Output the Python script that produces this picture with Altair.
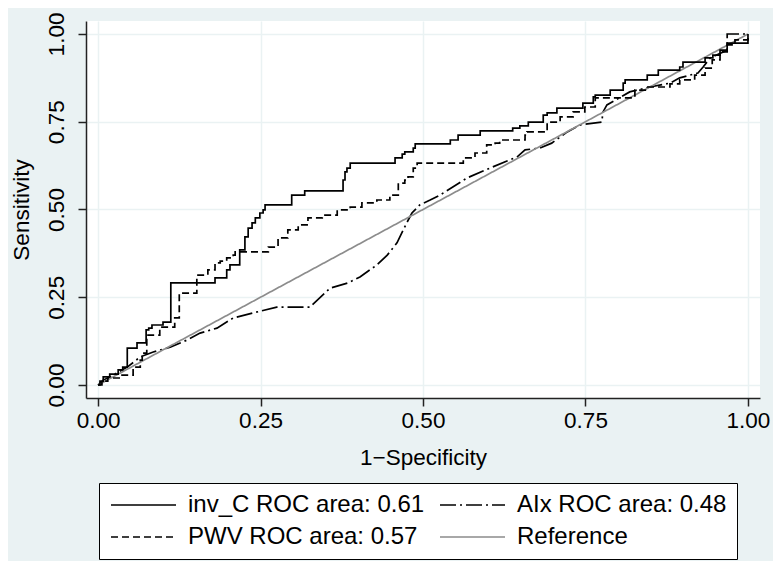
import altair as alt
import pandas as pd

# ROC points (1-Specificity, Sensitivity)
invc_x = [0.0, 0.003, 0.008, 0.018, 0.031, 0.038, 0.045, 0.060, 0.074, 0.078, 0.083, 0.100, 0.112,
          0.180, 0.198, 0.203, 0.218, 0.226, 0.231, 0.237, 0.242, 0.249, 0.254, 0.257, 0.298, 0.318,
          0.377, 0.380, 0.383, 0.388, 0.457, 0.468, 0.472, 0.485, 0.488, 0.542, 0.554, 0.588, 0.638,
          0.649, 0.662, 0.685, 0.691, 0.706, 0.746, 0.762, 0.765, 0.788, 0.808, 0.811, 0.845, 0.862,
          0.895, 0.900, 0.934, 0.946, 0.957, 0.968, 1.0]
invc_y = [0.0, 0.011, 0.023, 0.031, 0.043, 0.051, 0.105, 0.120, 0.157, 0.162, 0.171, 0.179, 0.291,
          0.305, 0.328, 0.342, 0.385, 0.422, 0.447, 0.462, 0.476, 0.490, 0.499, 0.513, 0.541, 0.553,
          0.584, 0.607, 0.618, 0.632, 0.647, 0.658, 0.664, 0.675, 0.687, 0.698, 0.712, 0.724, 0.732,
          0.738, 0.749, 0.769, 0.775, 0.789, 0.803, 0.821, 0.826, 0.840, 0.860, 0.869, 0.883, 0.897,
          0.906, 0.920, 0.932, 0.940, 0.954, 0.974, 1.0]

pwv_x = [0.0, 0.006, 0.015, 0.034, 0.054, 0.065, 0.068, 0.075, 0.095, 0.118, 0.125, 0.152, 0.169,
         0.180, 0.188, 0.198, 0.208, 0.211, 0.262, 0.277, 0.292, 0.308, 0.323, 0.345, 0.368, 0.388,
         0.406, 0.429, 0.449, 0.462, 0.472, 0.477, 0.485, 0.491, 0.562, 0.580, 0.598, 0.611, 0.618,
         0.657, 0.660, 0.691, 0.711, 0.731, 0.749, 0.765, 0.826, 0.846, 0.880, 0.895, 0.918, 0.934,
         0.945, 0.957, 0.968, 0.980, 1.0]
pwv_y = [0.0, 0.011, 0.020, 0.028, 0.051, 0.071, 0.091, 0.142, 0.165, 0.191, 0.262, 0.313, 0.328,
         0.348, 0.353, 0.362, 0.370, 0.379, 0.393, 0.419, 0.442, 0.456, 0.476, 0.484, 0.499, 0.507,
         0.519, 0.527, 0.541, 0.575, 0.584, 0.593, 0.618, 0.632, 0.647, 0.661, 0.684, 0.689, 0.698,
         0.712, 0.721, 0.749, 0.764, 0.778, 0.792, 0.818, 0.840, 0.849, 0.858, 0.869, 0.883, 0.903,
         0.926, 0.949, 0.969, 0.983, 1.0]

aix_x = [0.0, 0.008, 0.018, 0.045, 0.065, 0.085, 0.111, 0.137, 0.157, 0.183, 0.208, 0.238, 0.275,
         0.326, 0.357, 0.385, 0.403, 0.429, 0.445, 0.460, 0.475, 0.483, 0.495, 0.511, 0.526, 0.568,
         0.603, 0.645, 0.657, 0.680, 0.698, 0.722, 0.742, 0.775, 0.777, 0.783, 0.818, 0.849, 0.880,
         0.895, 0.923, 0.931, 0.942, 0.968, 0.968, 1.0]
aix_y = [0.0, 0.014, 0.023, 0.051, 0.080, 0.094, 0.108, 0.128, 0.148, 0.162, 0.191, 0.205, 0.222,
         0.222, 0.276, 0.291, 0.308, 0.342, 0.370, 0.405, 0.462, 0.490, 0.513, 0.527, 0.541, 0.590,
         0.618, 0.650, 0.670, 0.675, 0.689, 0.721, 0.741, 0.749, 0.778, 0.798, 0.835, 0.849, 0.860,
         0.875, 0.889, 0.906, 0.932, 0.954, 1.0, 1.0]

ref_x = [0.0, 1.0]
ref_y = [0.0, 1.0]

series_names = ["inv_C ROC area: 0.61", "AIx ROC area: 0.48", "PWV ROC area: 0.57", "Reference"]
series_colors = ["#000000", "#000000", "#000000", "#8c8c8c"]
series_dash = [[1, 0], [16, 4, 2, 4], [7, 4], [1, 0]]

frames = []
for name, xs, ys in zip(series_names, [invc_x, aix_x, pwv_x, ref_x], [invc_y, aix_y, pwv_y, ref_y]):
    frames.append(pd.DataFrame({"series": name, "fpr": xs, "tpr": ys, "idx": range(len(xs))}))
df = pd.concat(frames, ignore_index=True)

FONT = "Liberation Sans"

x_enc = alt.X("fpr:Q", title="1−Specificity",
              scale=alt.Scale(domain=[-0.0185, 1.0185], nice=False, zero=False),
              axis=alt.Axis(values=[0, 0.25, 0.5, 0.75, 1.0], format=".2f"))
y_enc = alt.Y("tpr:Q", title="Sensitivity",
              scale=alt.Scale(domain=[-0.037, 1.037], nice=False, zero=False),
              axis=alt.Axis(values=[0, 0.25, 0.5, 0.75, 1.0], format=".2f",
                            labelAngle=270, labelAlign="center", labelBaseline="bottom"))
color_enc = alt.Color("series:N",
                      scale=alt.Scale(domain=series_names, range=series_colors),
                      legend=alt.Legend(title=None, orient="none", legendX=13, legendY=462,
                                        direction="horizontal", columns=2,
                                        symbolType="M-1,0H5.5", symbolSize=400,
                                        symbolStrokeWidth=1.6, labelFontSize=24, labelFont=FONT,
                                        labelLimit=0, padding=10, rowPadding=8, columnPadding=11,
                                        labelOffset=55, strokeColor="#000000", fillColor="#ffffff",
                                        labelColor="#000000"))

base = alt.Chart(df).encode(x=x_enc, y=y_enc, color=color_enc,
                            strokeDash=alt.StrokeDash("series:N",
                                                      scale=alt.Scale(domain=series_names, range=series_dash)),
                            order="idx:Q")

steps = base.transform_filter(
    alt.FieldOneOfPredicate(field="series", oneOf=[series_names[0], series_names[2]])
).mark_line(interpolate="step-after", strokeWidth=1.7)

lines = base.transform_filter(
    alt.FieldOneOfPredicate(field="series", oneOf=[series_names[1], series_names[3]])
).mark_line(strokeWidth=1.7)

chart = alt.layer(lines, steps).properties(
    width=674, height=377,
    autosize=alt.AutoSizeParams(type="none"),
    padding={"left": 78, "top": 13, "right": 13, "bottom": 163},
    background="#eaf2f3",
).configure_view(fill="#ffffff", stroke=None).configure_axis(
    labelFont=FONT, titleFont=FONT, labelFontSize=22.5, titleFontSize=22.5,
    labelColor="#000000", titleColor="#000000", titleFontWeight="normal",
    domainColor="#222222", domainWidth=1.5, tickColor="#222222", tickWidth=1.5, tickSize=8,
    gridColor="#eaf2f3", gridWidth=1.5,
).configure_axisY(titlePadding=12, labelPadding=10).configure_axisX(titlePadding=15, labelPadding=3)

chart.save("out.html", embed_options={"renderer": "svg", "actions": False})
